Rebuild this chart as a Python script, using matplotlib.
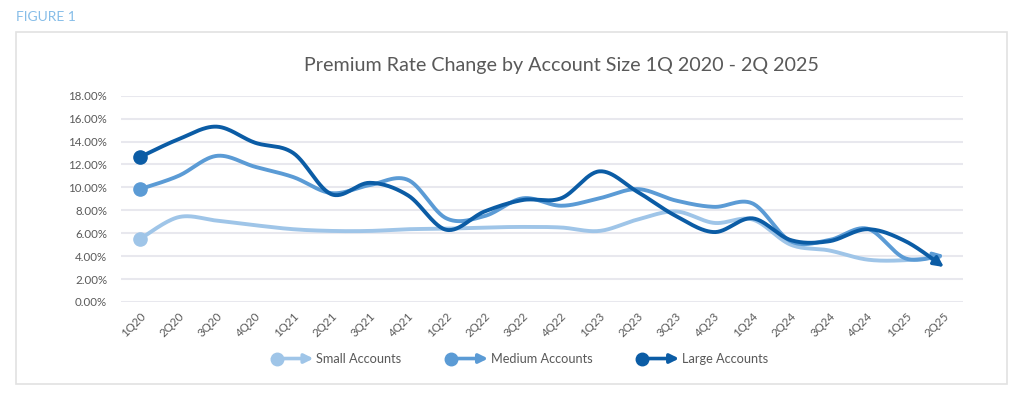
import numpy as np
import matplotlib
matplotlib.use("Agg")
import matplotlib.pyplot as plt
from matplotlib.lines import Line2D
from matplotlib.patches import FancyArrowPatch, Rectangle
from matplotlib.legend_handler import HandlerBase
from matplotlib.ticker import FuncFormatter

plt.rcParams['font.family'] = ['Lato', 'DejaVu Sans']

quarters = ["1Q20", "2Q20", "3Q20", "4Q20", "1Q21", "2Q21", "3Q21", "4Q21",
            "1Q22", "2Q22", "3Q22", "4Q22", "1Q23", "2Q23", "3Q23", "4Q23",
            "1Q24", "2Q24", "3Q24", "4Q24", "1Q25", "2Q25"]
small = [5.5, 7.4, 7.1, 6.7, 6.35, 6.2, 6.2, 6.35, 6.4, 6.5, 6.55, 6.5,
         6.2, 7.2, 7.9, 6.9, 7.2, 5.0, 4.5, 3.7, 3.65, 4.0]
medium = [9.85, 11.0, 12.75, 11.8, 10.9, 9.5, 10.2, 10.65, 7.3, 7.5, 9.05, 8.4,
          9.05, 9.85, 8.85, 8.3, 8.6, 5.3, 5.4, 6.4, 3.8, 4.1]
large = [12.65, 14.2, 15.3, 13.9, 13.0, 9.4, 10.4, 9.3, 6.3, 7.9, 8.9, 9.05,
         11.4, 9.6, 7.5, 6.1, 7.3, 5.4, 5.3, 6.35, 5.3, 3.05]
series_names = ["Small Accounts", "Medium Accounts", "Large Accounts"]
colors = ["#9FC5E8", "#5B9BD5", "#0B5CA5"]


def smooth(xs, ys, n=30):
    xs = np.asarray(xs, float)
    ys = np.asarray(ys, float)
    P = np.column_stack([xs, ys])
    P = np.vstack([P[0], P, P[-1]])
    out = []
    for i in range(1, len(P) - 2):
        p0, p1, p2, p3 = P[i - 1], P[i], P[i + 1], P[i + 2]
        c1 = p1 + (p2 - p0) / 6.0
        c2 = p2 - (p3 - p1) / 6.0
        t = np.linspace(0, 1, n, endpoint=(i == len(P) - 3))[:, None]
        pts = ((1 - t) ** 3) * p1 + 3 * ((1 - t) ** 2) * t * c1 + 3 * (1 - t) * t ** 2 * c2 + t ** 3 * p2
        out.append(pts)
    pts = np.vstack(out)
    return pts[:, 0], pts[:, 1]


class ArrowHandler(HandlerBase):
    def create_artists(self, legend, orig_handle, xdescent, ydescent, width, height, fontsize, trans):
        c = orig_handle.get_color()
        x0 = -xdescent
        y = -ydescent + height / 2.0
        arr = FancyArrowPatch((x0, y), (x0 + width, y), arrowstyle='-|>', mutation_scale=13,
                              color=c, lw=2.6, shrinkA=0, shrinkB=0, transform=trans)
        dot = Line2D([x0 + 3], [y], marker='o', markersize=9, color=c, lw=0, transform=trans)
        return [arr, dot]


fig = plt.figure(figsize=(10.24, 3.97), dpi=100)
fig.patches.append(Rectangle((16 / 1024, 1 - 384 / 397), 991 / 1024, 352 / 397,
                             transform=fig.transFigure, fill=False, edgecolor="#E2E2E2", lw=1.2))
fig.text(16 / 1024, 1 - 17 / 397, "FIGURE 1", color="#86BDE8", fontsize=10, va='center', ha='left')
fig.text(561.5 / 1024, 1 - 65 / 397, "Premium Rate Change by Account Size 1Q 2020 - 2Q 2025",
         fontsize=14.2, color="#595959", ha='center', va='center')

ax = fig.add_axes([121 / 1024, 1 - 302 / 397, 842 / 1024, (302 - 95.7) / 397])
x = np.arange(len(quarters))
ax.set_xlim(-0.5, len(quarters) - 0.5)
ax.set_ylim(0, 18)
ax.set_yticks(np.arange(0, 18.1, 2))
ax.yaxis.set_major_formatter(FuncFormatter(lambda v, p: f"{v:.2f}%"))
ax.grid(axis='y', color="#E8E8EE", lw=1.5)
ax.set_axisbelow(True)
for s in ax.spines.values():
    s.set_visible(False)
ax.tick_params(axis='both', length=0, labelsize=8.3, labelcolor="#595959")
ax.tick_params(axis='y', pad=10)
ax.set_xticks(x)
ax.set_xticklabels(quarters, rotation=45, ha='right', rotation_mode='anchor')
ax.tick_params(axis='x', pad=6)

handles = []
for vals, c, name in zip([small, medium, large], colors, series_names):
    sx, sy = smooth(x, vals)
    ax.plot(sx[:-6], sy[:-6], color=c, lw=2.8, solid_capstyle='round', zorder=3)
    ax.annotate('', xy=(sx[-1], sy[-1]), xytext=(sx[-8], sy[-8]),
                arrowprops=dict(arrowstyle='-|>', color=c, lw=2.4, mutation_scale=15,
                                shrinkA=0, shrinkB=0), zorder=3)
    ax.plot([x[0]], [vals[0]], marker='o', markersize=9.5, color=c, zorder=4)
    handles.append(Line2D([], [], color=c, label=name))

fig.legend(handles=handles, labels=series_names, loc='center', bbox_to_anchor=(0.508, 1 - 359 / 397),
           ncol=3, frameon=False, handler_map={Line2D: ArrowHandler()}, handlelength=3.2,
           handletextpad=0.2, columnspacing=3.6, prop={'size': 9.2}, labelcolor="#595959")

fig.savefig("out.png", dpi=100, facecolor='white')
